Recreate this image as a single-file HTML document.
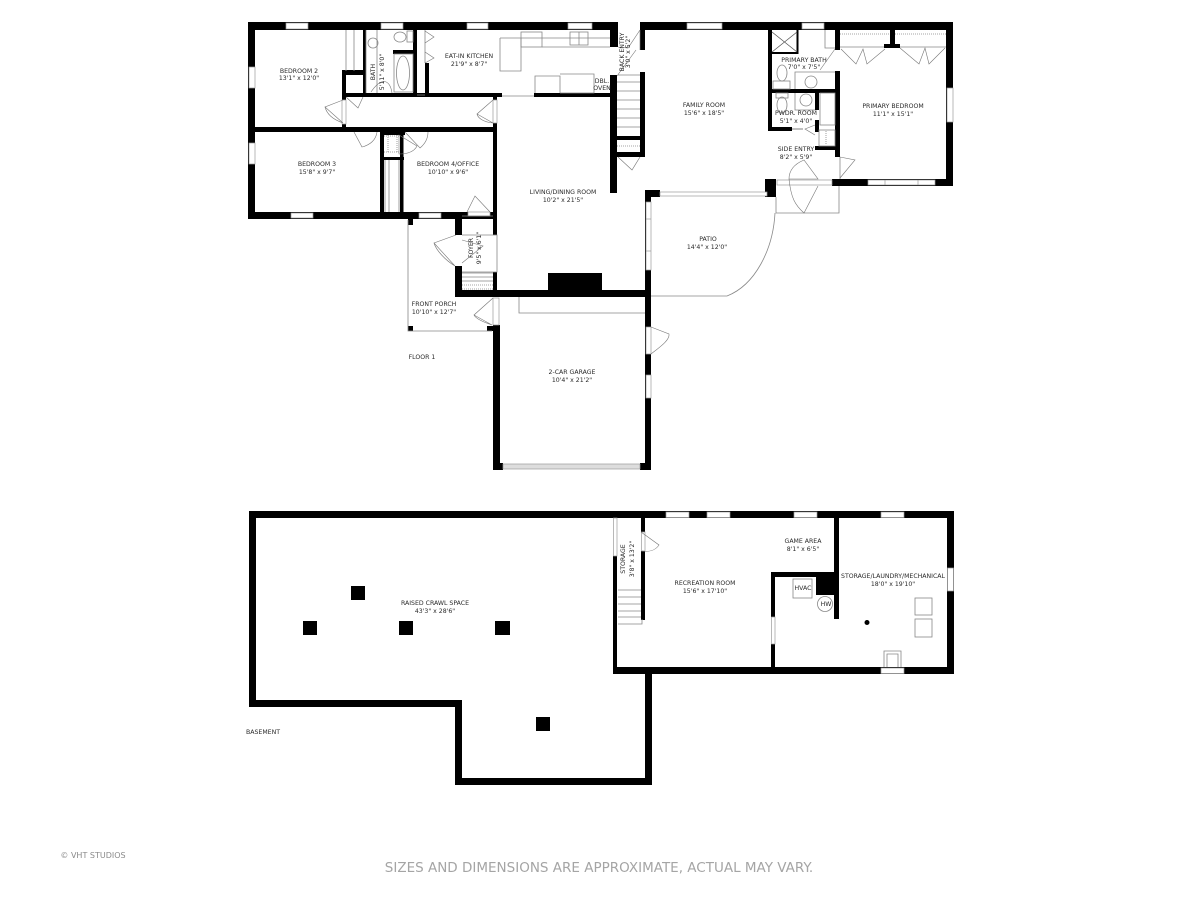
<!DOCTYPE html>
<html><head><meta charset="utf-8"><style>
html,body{margin:0;padding:0;background:#fff}
svg{display:block;filter:blur(.3px)}
text{font-family:"DejaVu Sans",sans-serif;font-size:6.2px;fill:#2a2a2a;text-anchor:middle}
.win{fill:#fff;stroke:#9a9a9a;stroke-width:.7}
.d{fill:none;stroke:#777;stroke-width:.6}
.l{fill:none;stroke:#888;stroke-width:.8}
</style></head><body>
<svg width="1200" height="900" viewBox="0 0 1200 900" xmlns="http://www.w3.org/2000/svg">
<rect width="1200" height="900" fill="#fff"/>
<!-- FLOOR 1 walls -->
<g fill="#000">
<rect x="248" y="22" width="705" height="8"/>
<rect x="248" y="22" width="7" height="197"/>
<rect x="248" y="212" width="249" height="7"/>
<rect x="255" y="127" width="238" height="5"/>
<rect x="342" y="70" width="4" height="58"/>
<rect x="342" y="70" width="24" height="5"/>
<rect x="363" y="30" width="3" height="67"/>
<rect x="345" y="93" width="157" height="4"/>
<rect x="413" y="30" width="4" height="67"/>
<rect x="393" y="50" width="20" height="4"/>
<rect x="425" y="63" width="4" height="32"/>
<rect x="534" y="93" width="78" height="4"/>
<rect x="493" y="97" width="4" height="138"/>
<rect x="380" y="130" width="4" height="83"/>
<rect x="380" y="130" width="25" height="5"/>
<rect x="380" y="157" width="24" height="3"/>
<rect x="400" y="130" width="3.500" height="83"/>
<rect x="610" y="22" width="8" height="25"/>
<rect x="610" y="75" width="7" height="118"/>
<rect x="640" y="22" width="5" height="28"/>
<rect x="640" y="72" width="5" height="85"/>
<rect x="617" y="136" width="23" height="4"/>
<rect x="617" y="152" width="23" height="5"/>
<rect x="645" y="190" width="15" height="7"/>
<rect x="645" y="190" width="6" height="280"/>
<rect x="765" y="179" width="11" height="18"/>
<rect x="768" y="179" width="8" height="7"/>
<rect x="768" y="30" width="4" height="101"/>
<rect x="768" y="127" width="24" height="4"/>
<rect x="772" y="89" width="63" height="4"/>
<rect x="815" y="93" width="4" height="17"/>
<rect x="815" y="120" width="4" height="12"/>
<rect x="815" y="146" width="20" height="4"/>
<rect x="835" y="22" width="5" height="28"/>
<rect x="835" y="71" width="5" height="86"/>
<rect x="832" y="179" width="121" height="7"/>
<rect x="946" y="22" width="7" height="164"/>
<rect x="890" y="30" width="5" height="17"/>
<rect x="884" y="44" width="16" height="4"/>
<rect x="796.500" y="30" width="2" height="24"/>
<rect x="772" y="52" width="26" height="2"/>
<rect x="455" y="212" width="7" height="23"/>
<rect x="455" y="266" width="7" height="31"/>
<rect x="493" y="272" width="4" height="25"/>
<rect x="455" y="290" width="196" height="7"/>
<rect x="548" y="273" width="54" height="17"/>
<rect x="493" y="325" width="7" height="145"/>
<rect x="493" y="463" width="10" height="7"/>
<rect x="640" y="463" width="11" height="7"/>
<rect x="408" y="219" width="5" height="6"/>
<rect x="408" y="326" width="5" height="5"/>
<rect x="487" y="326" width="6" height="5"/>
</g>
<!-- windows floor 1 -->
<g class="win">
<rect x="286" y="23" width="22" height="6"/><rect x="381" y="23" width="22" height="6"/><rect x="467" y="23" width="21" height="6"/><rect x="568" y="23" width="24" height="6"/>
<rect x="687" y="23" width="35" height="6"/><rect x="802" y="23" width="22" height="6"/>
<rect x="618" y="22" width="22" height="8" stroke="none"/>
<rect x="249" y="67" width="6" height="21"/><rect x="249" y="143" width="6" height="21"/>
<rect x="291" y="213" width="22" height="5"/><rect x="419" y="213" width="22" height="5"/>
<rect x="468" y="212" width="22" height="4"/>
<rect x="868" y="180" width="67" height="5"/><line x1="885" y1="180" x2="885" y2="185"/><line x1="918" y1="180" x2="918" y2="185"/>
<rect x="947" y="88" width="6" height="34"/>
<rect x="646" y="202" width="5" height="68"/><line x1="646" y1="219" x2="651" y2="219"/><line x1="646" y1="251" x2="651" y2="251"/>
<rect x="646" y="327" width="5" height="27"/><rect x="646" y="375" width="5" height="23"/>
<rect x="660" y="192" width="107" height="4"/>
<rect x="503" y="464" width="137" height="5" fill="#ddd"/>
<rect x="777" y="180" width="55" height="5"/>
<rect x="493" y="298" width="6" height="27"/>
<rect x="342" y="100" width="4" height="24"/>
<rect x="493" y="100" width="4" height="23"/>
</g>
<!-- thin lines -->
<g class="l">
<path d="M408 220V331H492"/>
<path d="M519 297V313H645"/>
<path d="M651 296H727C755 285 773 250 775 213"/>
<path d="M776 197V213H839V186"/>
<path d="M462 216H493M462 235H497V272H462M462 273H493M462 277H493M462 281H493"/>
<path d="M462 285H493M462 289H493" stroke-dasharray="1 1"/>
<path d="M346 30V71M354 30V71M366 93V30M377 30V93"/>
<path d="M425 30V63M417 95H425"/>
<path d="M500 38V71H521V38M500 38H610M542 47H610"/>
<path d="M502 96H534"/>
<rect x="521" y="32" width="21" height="15"/>
<rect x="570" y="32" width="18" height="13"/>
<path d="M579 32V45"/>
<path d="M535 93V76H560V93M560 74H594V93H560"/>
<path d="M618 75H640M617 82H640M617 91H640M617 100H640M617 109H640M617 118H640M617 127H640"/>
<path d="M617 146H640" stroke-dasharray="1 1"/>
<path d="M840 157V179"/>
<path d="M825 30V48H835"/>
<path d="M772 32L797 52M797 32L772 52" stroke="#555"/>
<path d="M795 89V72H835"/>
<path d="M840 47H884M900 47H946"/>
<path d="M840 34H890M895 34H946" stroke-dasharray="1 1"/>
<path d="M795 93V110H815"/>
<rect x="820" y="93" width="15" height="32"/>
<rect x="819" y="130" width="16" height="16"/>
<path d="M826 131V145" stroke-dasharray="1 1"/>
<rect x="394" y="54" width="19" height="38"/>
<ellipse cx="403" cy="73" rx="6.500" ry="17"/>
<ellipse cx="400" cy="37" rx="6" ry="5"/>
<circle cx="373" cy="43" r="5"/>
<rect x="407" y="31" width="6" height="11"/>
<path d="M384 136H400M384 152H400M388 135V152M397 135V152" stroke-dasharray="1 1"/>
<path d="M385 160V212M399 160V212M389 160V212"/>
<ellipse cx="782" cy="73" rx="5" ry="8"/>
<rect x="773" y="81" width="17" height="8"/>
<rect x="776" y="93" width="12" height="5"/>
<ellipse cx="782" cy="105" rx="5" ry="8"/>
<circle cx="811" cy="82" r="6"/>
<circle cx="806" cy="100" r="6"/>
<path d="M792 129H803" stroke="#aaa" stroke-width="1.500"/>
</g>
<!-- doors -->
<g class="d">
<path d="M343 100L325 107L343 123C332 119 327 114 325 107"/>
<path d="M346 97L358 108L363 97"/>
<path d="M493 100L477 114L493 123C483 122 478 118 477 114"/>
<path d="M354 132L362 147C370 145 376 140 377 132"/>
<path d="M405 132L420 148C426 143 428 137 428 132"/>
<path d="M399 135V154C410 154 415 150 417 146Z"/>
<path d="M490 212L475 196L467 212"/>
<path d="M371 92C382 76 390 80 392 93"/>
<path d="M425 31L434 37L425 43M425 52L434 58L425 63"/>
<path d="M640 30L628 48L618 47M640 50C640 43 640 38 640 30"/>
<path d="M618 157L632 170L640 157"/>
<path d="M617 76L636 50"/>
<path d="M841 49L856 64L863 49L867 64L885 49M900 48L919 64L925 48L929 64L945 48"/>
<path d="M820 70L835 49"/>
<path d="M815 125L805 129L815 135"/>
<path d="M840 157L855 160L840 178"/>
<path d="M789 179L818 179L804 160C792 165 789 172 789 179ZM789 179C791 198 795 205 804 213L818 186"/>
<path d="M456 235L434 243L455 266C445 260 436 250 434 243M462 240L483 246L462 263"/>
<path d="M493 298L474 315L492 325C483 322 476 319 474 315"/>
<path d="M651 327L669 334C670 340 660 347 651 354"/>
</g>
<!-- BASEMENT walls -->
<g fill="#000">
<rect x="249" y="511" width="705" height="7"/>
<rect x="249" y="511" width="7" height="196"/>
<rect x="249" y="700" width="213" height="7"/>
<rect x="455" y="700" width="7" height="85"/>
<rect x="455" y="778" width="197" height="7"/>
<rect x="645" y="667" width="7" height="118"/>
<rect x="613" y="667" width="341" height="7"/>
<rect x="613" y="556" width="4" height="118"/>
<rect x="641" y="518" width="4" height="14"/>
<rect x="641" y="551" width="4" height="69"/>
<rect x="947" y="511" width="7" height="163"/>
<rect x="834" y="518" width="5" height="101"/>
<rect x="771" y="572" width="63" height="5"/>
<rect x="771" y="572" width="4" height="45"/>
<rect x="771" y="644" width="4" height="26"/>
<rect x="816" y="577" width="18" height="18"/>
<rect x="351" y="586" width="14" height="14"/>
<rect x="303" y="621" width="14" height="14"/>
<rect x="399" y="621" width="14" height="14"/>
<rect x="495" y="621" width="15" height="14"/>
<rect x="536" y="717" width="14" height="14"/>
<circle cx="867" cy="622.500" r="2.500"/>
</g>
<g class="win">
<rect x="666" y="512" width="23" height="5.500"/><rect x="707" y="512" width="23" height="5.500"/><rect x="794" y="512" width="23" height="5.500"/><rect x="881" y="512" width="23" height="5.500"/>
<rect x="881" y="668" width="23" height="5.500"/>
<rect x="947.500" y="568" width="6" height="23"/>
<rect x="613.500" y="518" width="3.500" height="38"/>
<rect x="771.500" y="617" width="3.500" height="27"/>
<rect x="641.500" y="532" width="3.500" height="19"/>
</g>
<g class="l">
<path d="M618 590H641M618 597H641M618 604H641M618 611H641M618 617H641M618 624H642V619"/>
<rect x="793" y="579" width="19" height="19"/>
<circle cx="825" cy="604" r="7.500"/>
<rect x="915" y="598" width="17" height="17"/><rect x="915" y="619" width="17" height="18"/>
<path d="M884 667V651H901V667M887 667V654H898V667"/>
</g>
<path class="d" d="M641 532L659 545C655 551 648 552 642 551"/>
<!-- labels -->
<text x="299" y="73">BEDROOM 2</text><text x="299" y="80">13'1" x 12'0"</text>
<text x="469" y="58">EAT-IN KITCHEN</text><text x="469" y="66">21'9" x 8'7"</text>
<text x="317" y="166">BEDROOM 3</text><text x="317" y="174">15'8" x 9'7"</text>
<text x="448" y="166">BEDROOM 4/OFFICE</text><text x="448" y="174">10'10" x 9'6"</text>
<text x="563" y="194">LIVING/DINING ROOM</text><text x="563" y="202">10'2" x 21'5"</text>
<text x="704" y="107">FAMILY ROOM</text><text x="704" y="115">15'6" x 18'5"</text>
<text x="804" y="62">PRIMARY BATH</text><text x="804" y="69">7'0" x 7'5"</text>
<text x="796" y="115">PWDR. ROOM</text><text x="796" y="123">5'1" x 4'0"</text>
<text x="893" y="108">PRIMARY BEDROOM</text><text x="893" y="116">11'1" x 15'1"</text>
<text x="796" y="151">SIDE ENTRY</text><text x="796" y="159">8'2" x 5'9"</text>
<text x="708" y="241">PATIO</text><text x="707" y="249">14'4" x 12'0"</text>
<text x="434" y="306">FRONT PORCH</text><text x="434" y="314">10'10" x 12'7"</text>
<text x="422" y="359">FLOOR 1</text>
<text x="572" y="374">2-CAR GARAGE</text><text x="572" y="382">10'4" x 21'2"</text>
<text x="435" y="605">RAISED CRAWL SPACE</text><text x="435" y="613">43'3" x 28'6"</text>
<text x="263" y="734">BASEMENT</text>
<text x="705" y="585">RECREATION ROOM</text><text x="705" y="593">15'6" x 17'10"</text>
<text x="803" y="543">GAME AREA</text><text x="803" y="551">8'1" x 6'5"</text>
<text x="893" y="578">STORAGE/LAUNDRY/MECHANICAL</text><text x="893" y="586">18'0" x 19'10"</text>
<text x="803" y="590">HVAC</text><text x="826" y="606">HW</text>
<text x="602" y="83">DBL.</text><text x="602" y="90">OVEN</text>
<text transform="translate(375 72) rotate(-90)">BATH</text>
<text transform="translate(384 72) rotate(-90)">5'11" x 8'0"</text>
<text transform="translate(624 52) rotate(-90)">BACK ENTRY</text>
<text transform="translate(630 52) rotate(-90)">3'0" x 5'2"</text>
<text transform="translate(473 248) rotate(-90)">FOYER</text>
<text transform="translate(481 248) rotate(-90)">9'5" x 6'1"</text>
<text transform="translate(625 559) rotate(-90)">STORAGE</text>
<text transform="translate(634 559) rotate(-90)">3'8" x 13'2"</text>
<text x="93" y="858" style="font-size:8px;fill:#8a8a8a">© VHT STUDIOS</text>
<text x="599" y="872" style="font-size:13.500px;fill:#a5a5a5">SIZES AND DIMENSIONS ARE APPROXIMATE, ACTUAL MAY VARY.</text>
</svg>
</body></html>
